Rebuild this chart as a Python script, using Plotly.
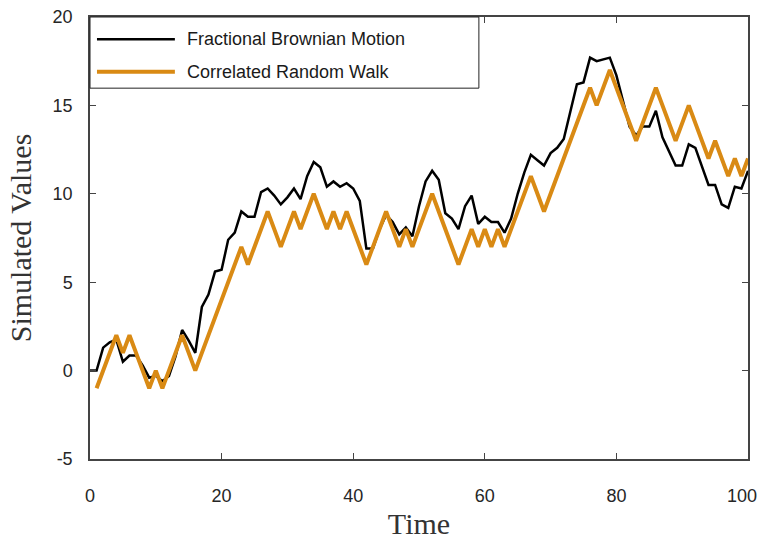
import plotly.graph_objects as go

# Data
time_fbm = list(range(0, 101))
fbm_values = [0.0, 0.0, 1.3, 1.6, 1.75, 0.5, 0.85, 0.85, 0.3, -0.4, -0.3,
              -0.6, -0.3, 0.8, 2.3, 1.7, 1.0, 3.6, 4.3, 5.6, 5.7,
              7.4, 7.8, 9.0, 8.7, 8.7, 10.1, 10.3, 9.9, 9.4, 9.8,
              10.3, 9.7, 11.0, 11.8, 11.5, 10.4, 10.7, 10.4, 10.6, 10.3,
              9.6, 6.9, 6.9, 8.0, 8.8, 8.4, 7.7, 8.1, 7.6, 9.3,
              10.7, 11.3, 10.8, 8.9, 8.6, 8.0, 9.3, 9.9, 8.3, 8.7,
              8.4, 8.4, 7.8, 8.6, 10.0, 11.2, 12.2, 11.9, 11.6, 12.3,
              12.6, 13.1, 14.7, 16.2, 16.3, 17.7, 17.5, 17.6, 17.7, 16.7,
              15.2, 13.8, 13.3, 13.8, 13.8, 14.7, 13.2, 12.4, 11.6, 11.6,
              12.8, 12.6, 11.6, 10.5, 10.5, 9.4, 9.2, 10.4, 10.3, 11.3]

time_crw = list(range(1, 101))
crw_values = [-1, 0, 1, 2, 1, 2, 1, 0, -1, 0,
              -1, 0, 1, 2, 1, 0, 1, 2, 3, 4,
              5, 6, 7, 6, 7, 8, 9, 8, 7, 8,
              9, 8, 9, 10, 9, 8, 9, 8, 9, 8,
              7, 6, 7, 8, 9, 8, 7, 8, 7, 8,
              9, 10, 9, 8, 7, 6, 7, 8, 7, 8,
              7, 8, 7, 8, 9, 10, 11, 10, 9, 10,
              11, 12, 13, 14, 15, 16, 15, 16, 17, 16,
              15, 14, 13, 14, 15, 16, 15, 14, 13, 14,
              15, 14, 13, 12, 13, 12, 11, 12, 11, 12]

x_ticks = [0, 20, 40, 60, 80, 100]
y_ticks = [-5, 0, 5, 10, 15, 20]
series_names = ["Fractional Brownian Motion", "Correlated Random Walk"]

BLACK = "#000000"
ORANGE = "#D98A14"
AXIS = "#444444"
TICKFONT = dict(family="Liberation Sans, Arial, sans-serif", size=18, color="#262626")
SERIF = dict(family="Liberation Serif, Times New Roman, serif", size=30, color="#333333")

# last x tick label is drawn as an annotation so it stays inside the page
x_ticktext = [str(v) for v in x_ticks[:-1]] + [""]

fig = go.Figure()
fig.add_trace(go.Scatter(x=time_fbm, y=fbm_values, mode="lines",
                         line=dict(color=BLACK, width=2.5), name=series_names[0],
                         showlegend=False))
fig.add_trace(go.Scatter(x=time_crw, y=crw_values, mode="lines",
                         line=dict(color=ORANGE, width=4), name=series_names[1],
                         showlegend=False))

fig.update_xaxes(range=[0, 100], tickvals=x_ticks, ticktext=x_ticktext,
                 ticks="inside", ticklen=6, tickcolor=AXIS, tickwidth=1,
                 showline=True, linecolor=AXIS, linewidth=1.5, mirror="allticks",
                 showgrid=False, zeroline=False, tickfont=TICKFONT,
                 ticklabelstandoff=20, automargin=False,
                 title=dict(text="Time", font=SERIF, standoff=8))
fig.update_yaxes(range=[-5, 20], tickvals=y_ticks, ticktext=[str(v) for v in y_ticks],
                 ticks="inside", ticklen=6, tickcolor=AXIS, tickwidth=1,
                 showline=True, linecolor=AXIS, linewidth=1.5, mirror="allticks",
                 showgrid=False, zeroline=False, tickfont=TICKFONT,
                 ticklabelstandoff=12, automargin=False,
                 title=dict(text="Simulated Values", font=SERIF, standoff=12))

fig.add_annotation(xref="paper", yref="paper", x=1.0165, y=-0.084,
                   text=str(x_ticks[-1]), showarrow=False, xanchor="right",
                   yanchor="middle", font=TICKFONT)

# Custom legend box (drawn in paper coordinates)
lx0, lx1, ly0, ly1 = 0.0, 0.591, 0.839, 1.0
fig.add_shape(type="rect", xref="paper", yref="paper", x0=lx0, x1=lx1, y0=ly0, y1=ly1,
              line=dict(color="#222222", width=1), fillcolor="white", layer="above")
legend_rows = [(0.9495, BLACK, 2.5), (0.876, ORANGE, 4)]
for (yy, col, w), name in zip(legend_rows, series_names):
    fig.add_shape(type="line", xref="paper", yref="paper", x0=0.0106, x1=0.129,
                  y0=yy, y1=yy, line=dict(color=col, width=w), layer="above")
    fig.add_annotation(xref="paper", yref="paper", x=0.144, y=yy, text=name,
                       showarrow=False, xanchor="left", yanchor="middle",
                       font=dict(family="Liberation Sans, Arial, sans-serif", size=18,
                                 color="#1a1a1a"))

fig.update_layout(width=761, height=541, margin=dict(l=90, r=13, t=17, b=82),
                  paper_bgcolor="white", plot_bgcolor="white", showlegend=False)

fig.write_html("out.html")
